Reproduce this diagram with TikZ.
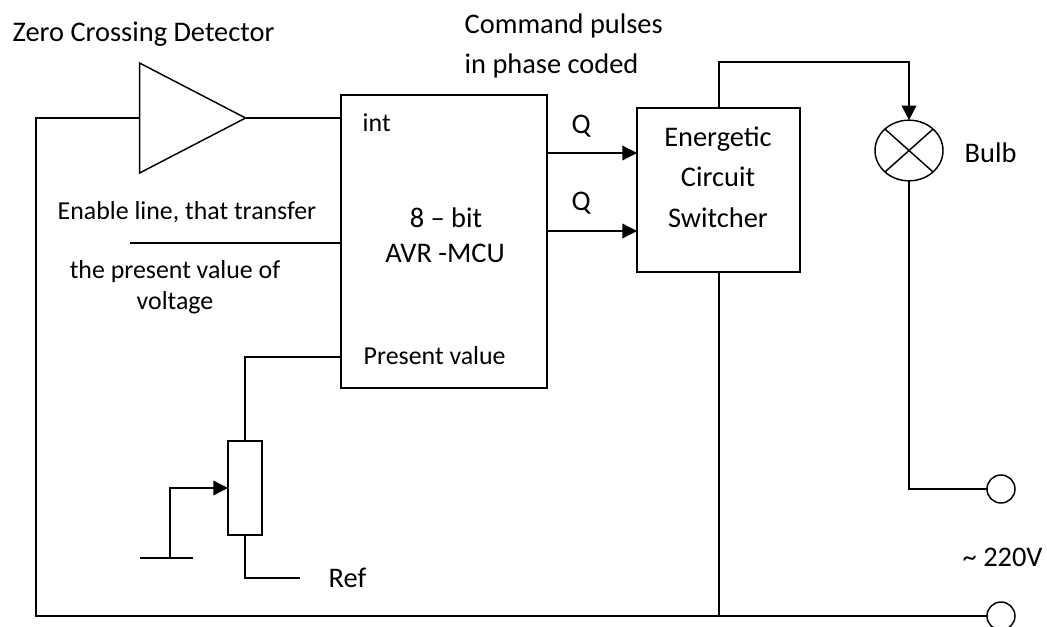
\documentclass[tikz,border=0pt]{standalone}
\usepackage{fontspec}
\setmainfont{Carlito}
\usetikzlibrary{shapes.geometric}
\usetikzlibrary{arrows.meta}

\begin{document}
\begin{tikzpicture}[x=0.75pt, y=-0.75pt, line width=1.1pt,
    every node/.style={font=\fontsize{21.3}{24}\selectfont},
    txt/.style={anchor=base west, inner sep=0pt},
    ctxt/.style={anchor=base, inner sep=0pt},
    smalltxt/.style={font=\fontsize{19.4}{22}\selectfont},
    block/.style={draw=black, rectangle, inner sep=0pt, outer sep=0pt},
    wire/.style={draw=black},
    arrowwire/.style={draw=black, -{Triangle[length=11pt, width=11pt]}},
    terminal/.style={circle, draw=black, fill=white, inner sep=0pt, outer sep=0pt, minimum size=21pt}]

      \useasboundingbox (0, 0) rectangle (1047, 626);

      % Zero crossing comparator
      \node[draw=black, isosceles triangle, isosceles triangle stretches, shape border rotate=0,
            minimum width=82.5pt, minimum height=79.5pt, inner sep=0pt, outer sep=0pt] (comparator) at (173, 118) {};

      % Main blocks
      \node[block, minimum width=154.5pt, minimum height=219.75pt] (mcu) at (444, 241.5) {};
      \node[block, minimum width=122.25pt, minimum height=123pt] (switcher) at (718.5, 190) {};
      \node[block, minimum width=25.5pt, minimum height=70.5pt] (pot) at (245, 488) {};

      % Bulb
      \node[draw=black, ellipse, minimum width=51pt, minimum height=45.5pt, inner sep=0pt, outer sep=0pt] (bulb) at (909, 150.5) {};
      \draw (bulb.north west) -- (bulb.south east);
      \draw (bulb.north east) -- (bulb.south west);

      % Mains terminals
      \node[terminal] (upper) at (1001, 489) {};
      \node[terminal] (lower) at (1001, 616) {};

      % Free ends and corners
      \coordinate (enable) at (130, 243);
      \coordinate (mcuenable) at (341, 243);
      \coordinate (mcupreset) at (341, 357);
      \coordinate (mcuint) at (341, 118);
      \coordinate (swtop) at (719, 108);
      \coordinate (swbottom) at (719, 272);
      \coordinate (swjoin) at (719, 616);
      \coordinate (wiper) at (228, 488);
      \coordinate (gndtop) at (170, 558);
      \coordinate (gndleft) at (140, 558);
      \coordinate (gndright) at (193, 558);
      \coordinate (refend) at (300, 578);

      % Connections
      \draw[wire] (comparator.apex) -- (mcuint);
      \draw[wire] (comparator.west) -- (36, 118) -- (36, 616) -- (lower.west);
      \draw[wire] (enable) -- (mcuenable);
      \draw[wire] (mcupreset) -- (245, 357) -- (pot.north);
      \draw[wire] (pot.south) |- (refend);
      \draw[arrowwire] (gndtop) |- (wiper);
      \draw[wire] (gndleft) -- (gndright);
      \draw[wire] (swbottom) -- (swjoin);
      \draw[arrowwire] (swtop) -- (719, 62) -| (bulb.north);
      \draw[wire] (bulb.south) |- (upper.west);

      % Both pulse outputs
      \foreach \i/\ypos in {1/153, 2/231} {
        \coordinate (out\i) at (547, \ypos);
        \coordinate (in\i) at (637, \ypos);
        \draw[arrowwire] (out\i) -- (in\i);
      }

      % Labels
      \node[txt] (zcd) at (12, 41) {Zero Crossing Detector};
      \node[txt] (cmd1) at (464, 33) {Command pulses};
      \node[txt] (cmd2) at (464, 73) {in phase coded};
      \node[txt, smalltxt] (int) at (362, 131) {int};
      \node[txt] (q1) at (571, 133) {Q};
      \node[txt] (q2) at (571, 210) {Q};
      \node[ctxt] (sw1) at (718, 146) {Energetic};
      \node[ctxt] (sw2) at (718, 186) {Circuit};
      \node[ctxt] (sw3) at (718, 227) {Switcher};
      \node[ctxt] (mcu1) at (446, 227) {8 – bit};
      \node[ctxt] (mcu2) at (445, 262) {AVR -MCU};
      \node[txt, smalltxt] (en1) at (57, 219) {Enable line, that transfer};
      \node[ctxt, smalltxt] (en2) at (175, 278) {the present value of};
      \node[ctxt, smalltxt] (en3) at (175, 309) {voltage};
      \node[txt, smalltxt] (preset) at (363, 364) {Present value};
      \node[txt] (bulbtxt) at (964, 162) {Bulb};
      \node[txt] (mains) at (962, 566) {\textasciitilde{} 220V};
      \node[txt] (ref) at (328, 587) {Ref};

    \end{tikzpicture}
\end{document}
